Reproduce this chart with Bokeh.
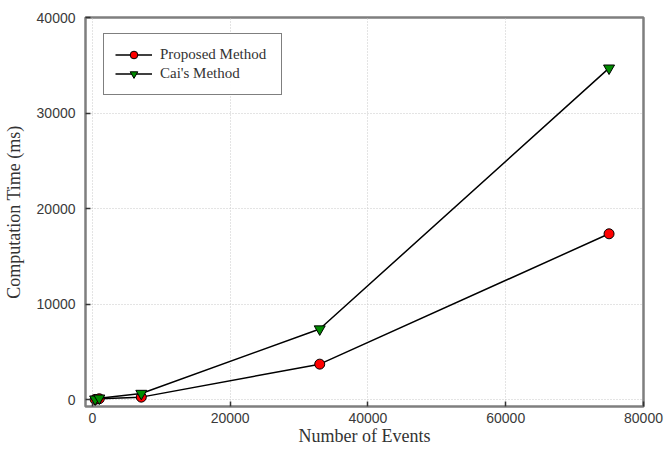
from bokeh.plotting import figure
from bokeh.models import Range1d, Legend, LegendItem, FixedTicker
from bokeh.embed import file_html
from bokeh.resources import INLINE

events = [400, 1000, 7100, 33000, 75000]
proposed_ms = [60, 130, 300, 3750, 17380]
cai_ms = [90, 190, 680, 7420, 34700]
x_ticks = [0, 20000, 40000, 60000, 80000]
y_ticks = [0, 10000, 20000, 30000, 40000]

p = figure(width=666, height=451, output_backend="svg", toolbar_location=None,
           x_range=Range1d(-1000, 80000), y_range=Range1d(-680, 40000),
           min_border_left=82, min_border_right=23, min_border_top=17, min_border_bottom=45)
p.background_fill_color = "white"
p.border_fill_color = "white"
p.outline_line_color = "#7f7f7f"
p.outline_line_width = 2.5

for ax in (p.xaxis, p.yaxis):
    ax.axis_line_color = None
    ax.major_tick_in = 5
    ax.major_tick_out = 0
    ax.major_tick_line_color = "#333333"
    ax.major_tick_line_width = 1.5
    ax.minor_tick_line_color = None
    ax.major_label_text_font = "Liberation Sans"
    ax.major_label_text_font_size = "14px"
    ax.major_label_text_color = "#3a3a3a"
p.xaxis.ticker = FixedTicker(ticks=x_ticks)
p.yaxis.ticker = FixedTicker(ticks=y_ticks)
p.xaxis.major_label_standoff = 6
p.yaxis.major_label_standoff = 10

p.yaxis.axis_label = "Computation Time (ms)"
p.yaxis.axis_label_text_font = "Liberation Serif"
p.yaxis.axis_label_text_font_style = "normal"
p.yaxis.axis_label_text_font_size = "18px"
p.yaxis.axis_label_text_color = "#333333"
p.yaxis.axis_label_standoff = 10

p.xaxis.axis_label = "Number of Events"
p.xaxis.axis_label_text_font = "Liberation Serif"
p.xaxis.axis_label_text_font_style = "normal"
p.xaxis.axis_label_text_font_size = "18px"
p.xaxis.axis_label_text_color = "#333333"
p.xaxis.axis_label_standoff = 0

p.grid.grid_line_color = "#c8c8c8"
p.grid.grid_line_dash = "1 2"
p.grid.grid_line_width = 1

l1 = p.line(events, proposed_ms, line_color="black", line_width=1.5)
s1 = p.scatter(events, proposed_ms, marker="circle", size=10, fill_color="#ff0000",
               line_color="black", line_width=1)
l2 = p.line(events, cai_ms, line_color="black", line_width=1.5)
s2 = p.scatter(events, cai_ms, marker="inverted_triangle", size=11, fill_color="#008c00",
               line_color="black", line_width=1)

legend = Legend(items=[LegendItem(label="Proposed Method", renderers=[l1, s1]),
                       LegendItem(label="Cai's Method", renderers=[l2, s2])],
                location=(18, 311), padding=11, spacing=0, glyph_width=37, glyph_height=19,
                label_height=19, label_standoff=8, label_width=110,
                label_text_font="Liberation Serif", label_text_font_size="15px",
                label_text_color="#333333", border_line_color="black", border_line_width=1.5,
                margin=0)
p.add_layout(legend, "center")

open("out.html", "w").write(file_html(p, INLINE))
